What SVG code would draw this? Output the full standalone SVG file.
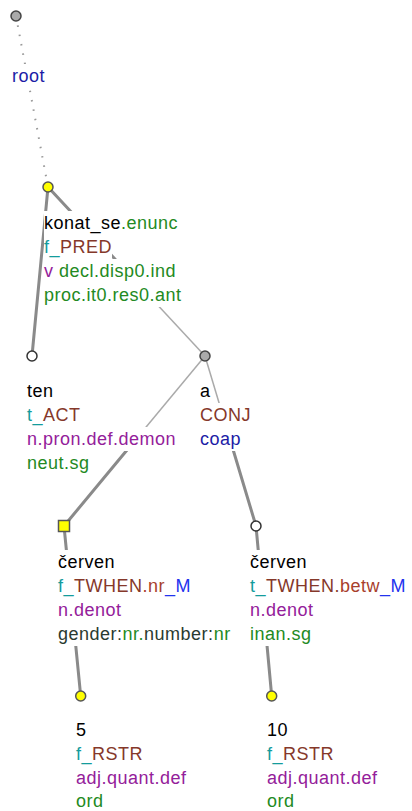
<svg xmlns="http://www.w3.org/2000/svg" width="412" height="811" viewBox="0 0 412 811">
<style>
text{font-family:"Liberation Sans",Arial,sans-serif;font-size:18px;letter-spacing:0.5px;fill:#000}
.bg{fill:#fff}
.thick{stroke:#8a8a8a;stroke-width:3;fill:none;stroke-linecap:round}
.thin{stroke:#aaa;stroke-width:1.5;fill:none}
.dot{stroke:#999;stroke-width:2;stroke-dasharray:1.5 8;fill:none}
.gr{fill:#238a23}
.te{fill:#149c9c}
.br{fill:#85382a}
.rd{fill:#a8402c}
.bl{fill:#2233ee}
.db{fill:#1c1ca6}
.pu{fill:#94209a}
.dk{fill:#2a3a30}
.ny{fill:#ffff00;stroke:#555;stroke-width:1.5}
.ng{fill:#aaa;stroke:#444;stroke-width:1.5}
.nw{fill:#fff;stroke:#333;stroke-width:1.5}
</style>
<g id="edges">
<line class="dot" x1="16" y1="16" x2="48" y2="187"/>
<line class="thick" x1="48" y1="187" x2="32" y2="356"/>
<line class="thick" x1="48" y1="187" x2="126.5" y2="271.5"/>
<line class="thin" x1="126.5" y1="271.5" x2="205" y2="356"/>
<line class="thin" x1="205" y1="356" x2="134.5" y2="441"/>
<line class="thick" x1="134.5" y1="441" x2="64" y2="526"/>
<line class="thin" x1="205" y1="356" x2="230.5" y2="441"/>
<line class="thick" x1="230.5" y1="441" x2="256" y2="526"/>
<line class="thick" x1="64" y1="526" x2="80.7" y2="696"/>
<line class="thick" x1="256" y1="526" x2="271.7" y2="696"/>
</g>
<g id="root">
<rect class="bg" x="12" y="64" width="34" height="24"/>
<text x="12" y="82" class="db">root</text>
<circle class="ng" cx="16" cy="16" r="5"/>
</g>
<g id="konat_se">
<rect class="bg" x="44" y="211" width="136" height="24"/>
<rect class="bg" x="44" y="235" width="68" height="24"/>
<rect class="bg" x="44" y="259" width="132" height="24"/>
<rect class="bg" x="44" y="283" width="138" height="24"/>
<text x="44" y="229">konat_se<tspan class="gr">.enunc</tspan></text>
<text x="44" y="253"><tspan class="te">f_</tspan><tspan class="br">PRED</tspan></text>
<text x="44" y="277"><tspan class="pu">v</tspan><tspan class="gr"> decl.disp0.ind</tspan></text>
<text x="44" y="301" class="gr">proc.it0.res0.ant</text>
<circle class="ny" cx="48" cy="187" r="5"/>
</g>
<g id="ten">
<rect class="bg" x="27" y="379" width="27" height="24"/>
<rect class="bg" x="27" y="403" width="54" height="24"/>
<rect class="bg" x="27" y="427" width="150" height="24"/>
<rect class="bg" x="27" y="451" width="63" height="24"/>
<text x="27" y="397">ten</text>
<text x="27" y="421"><tspan class="te">t_</tspan><tspan class="br">ACT</tspan></text>
<text x="27" y="445" class="pu">n.pron.def.demon</text>
<text x="27" y="469" class="gr">neut.sg</text>
<circle class="nw" cx="32" cy="356" r="5"/>
</g>
<g id="a">
<rect class="bg" x="200" y="379" width="11" height="24"/>
<rect class="bg" x="200" y="403" width="51" height="24"/>
<rect class="bg" x="200" y="427" width="41" height="24"/>
<text x="200" y="397">a</text>
<text x="200" y="421" class="br">CONJ</text>
<text x="200" y="445" class="db">coap</text>
<circle class="ng" cx="205" cy="356" r="5"/>
</g>
<g id="cerven1">
<rect class="bg" x="58" y="550" width="57" height="24"/>
<rect class="bg" x="58" y="574" width="133" height="24"/>
<rect class="bg" x="58" y="598" width="64" height="24"/>
<rect class="bg" x="58" y="622" width="174" height="24"/>
<text x="58" y="568">červen</text>
<text x="58" y="592"><tspan class="te">f_</tspan><tspan class="br">TWHEN</tspan><tspan class="rd">.nr</tspan><tspan class="bl">_M</tspan></text>
<text x="58" y="616" class="pu">n.denot</text>
<text x="58" y="640"><tspan class="dk">gender:</tspan><tspan class="gr">nr.</tspan><tspan class="dk">number:</tspan><tspan class="gr">nr</tspan></text>
<rect class="ny" x="58.5" y="520.5" width="11" height="11"/>
</g>
<g id="cerven2">
<rect class="bg" x="250" y="550" width="57" height="24"/>
<rect class="bg" x="250" y="574" width="156" height="24"/>
<rect class="bg" x="250" y="598" width="64" height="24"/>
<rect class="bg" x="250" y="622" width="62" height="24"/>
<text x="250" y="568">červen</text>
<text x="250" y="592"><tspan class="te">t_</tspan><tspan class="br">TWHEN.</tspan><tspan class="rd">betw</tspan><tspan class="bl">_M</tspan></text>
<text x="250" y="616" class="pu">n.denot</text>
<text x="250" y="640" class="gr">inan.sg</text>
<circle class="nw" cx="256" cy="526" r="5"/>
</g>
<g id="n5">
<rect class="bg" x="76" y="718" width="11" height="24"/>
<rect class="bg" x="76" y="742" width="67" height="24"/>
<rect class="bg" x="76" y="766" width="111" height="24"/>
<rect class="bg" x="76" y="790" width="28" height="21"/>
<text x="76" y="736">5</text>
<text x="76" y="760"><tspan class="te">f_</tspan><tspan class="br">RSTR</tspan></text>
<text x="76" y="784" class="pu">adj.quant.def</text>
<text x="76" y="807" class="gr">ord</text>
<circle class="ny" cx="80.7" cy="696" r="5"/>
</g>
<g id="n10">
<rect class="bg" x="267" y="718" width="21" height="24"/>
<rect class="bg" x="267" y="742" width="67" height="24"/>
<rect class="bg" x="267" y="766" width="111" height="24"/>
<rect class="bg" x="267" y="790" width="28" height="21"/>
<text x="267" y="736">10</text>
<text x="267" y="760"><tspan class="te">f_</tspan><tspan class="br">RSTR</tspan></text>
<text x="267" y="784" class="pu">adj.quant.def</text>
<text x="267" y="807" class="gr">ord</text>
<circle class="ny" cx="271.7" cy="696" r="5"/>
</g>
</svg>
